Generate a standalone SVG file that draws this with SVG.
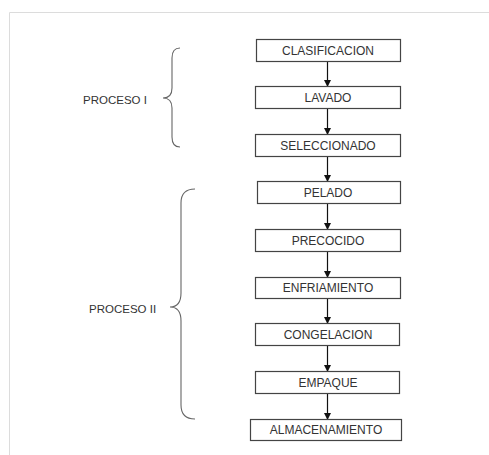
<svg xmlns="http://www.w3.org/2000/svg" width="489" height="455" viewBox="0 0 489 455">
<style>
.box{fill:#fff;stroke:#444;stroke-width:1.2}
.t{font-family:"Liberation Sans",Arial,sans-serif;font-size:12px;fill:#333;text-anchor:middle}
.lbl{font-family:"Liberation Sans",Arial,sans-serif;font-size:11.5px;fill:#333}
.edge{stroke:#111;stroke-width:1.2;fill:none}
.brace{stroke:#666;stroke-width:1.1;fill:none}
</style>
<defs>
<marker id="ah" markerWidth="7" markerHeight="7" refX="6" refY="3.5" orient="auto" markerUnits="userSpaceOnUse">
<path d="M0,0 L7,3.5 L0,7 Z" fill="#111"/>
</marker>
</defs>
<rect width="489" height="455" fill="#fff"/>
<path d="M9.5,455 L9.5,12.5 L489,12.5" stroke="#dcdcdc" stroke-width="1" fill="none"/>
<g id="connectors">
<line class="edge" x1="327.5" y1="61" x2="327.5" y2="86" marker-end="url(#ah)"/>
<line class="edge" x1="327.5" y1="108" x2="327.5" y2="134" marker-end="url(#ah)"/>
<line class="edge" x1="327.5" y1="156" x2="327.5" y2="181" marker-end="url(#ah)"/>
<line class="edge" x1="327.5" y1="203" x2="327.5" y2="229" marker-end="url(#ah)"/>
<line class="edge" x1="327.5" y1="251" x2="327.5" y2="277" marker-end="url(#ah)"/>
<line class="edge" x1="327.5" y1="299" x2="327.5" y2="323" marker-end="url(#ah)"/>
<line class="edge" x1="327.5" y1="345" x2="327.5" y2="371" marker-end="url(#ah)"/>
<line class="edge" x1="327.5" y1="393" x2="327.5" y2="419" marker-end="url(#ah)"/>
</g>
<g id="n1"><rect class="box" x="256.5" y="39.5" width="144" height="22"/><text class="t" x="328" y="55">CLASIFICACION</text></g>
<g id="n2"><rect class="box" x="255.5" y="86.5" width="145" height="22"/><text class="t" x="328" y="102">LAVADO</text></g>
<g id="n3"><rect class="box" x="255.5" y="134.5" width="145" height="22"/><text class="t" x="328" y="150">SELECCIONADO</text></g>
<g id="n4"><rect class="box" x="257.5" y="181.5" width="143" height="22"/><text class="t" x="328" y="197">PELADO</text></g>
<g id="n5"><rect class="box" x="255.5" y="229.5" width="145" height="22"/><text class="t" x="328" y="245">PRECOCIDO</text></g>
<g id="n6"><rect class="box" x="255.5" y="277.5" width="145" height="21"/><text class="t" x="328" y="292">ENFRIAMIENTO</text></g>
<g id="n7"><rect class="box" x="255.5" y="323.5" width="144" height="22"/><text class="t" x="328" y="339">CONGELACION</text></g>
<g id="n8"><rect class="box" x="255.5" y="371.5" width="144" height="22"/><text class="t" x="328" y="387">EMPAQUE</text></g>
<g id="n9"><rect class="box" x="250.5" y="419.5" width="151" height="21"/><text class="t" x="326" y="434">ALMACENAMIENTO</text></g>
<g id="g1">
<path class="brace" d="M180,48 Q172,48 172,58 L172,88 Q172,98 163,98 Q172,98 172,108 L172,137 Q172,147 180,147"/>
<text class="lbl" x="83" y="104">PROCESO I</text>
</g>
<g id="g2">
<path class="brace" d="M195,189 Q181,189 181,203 L181,293 Q181,307 170,307 Q181,307 181,321 L181,405 Q181,419 195,419"/>
<text class="lbl" x="89" y="313">PROCESO II</text>
</g>
</svg>
